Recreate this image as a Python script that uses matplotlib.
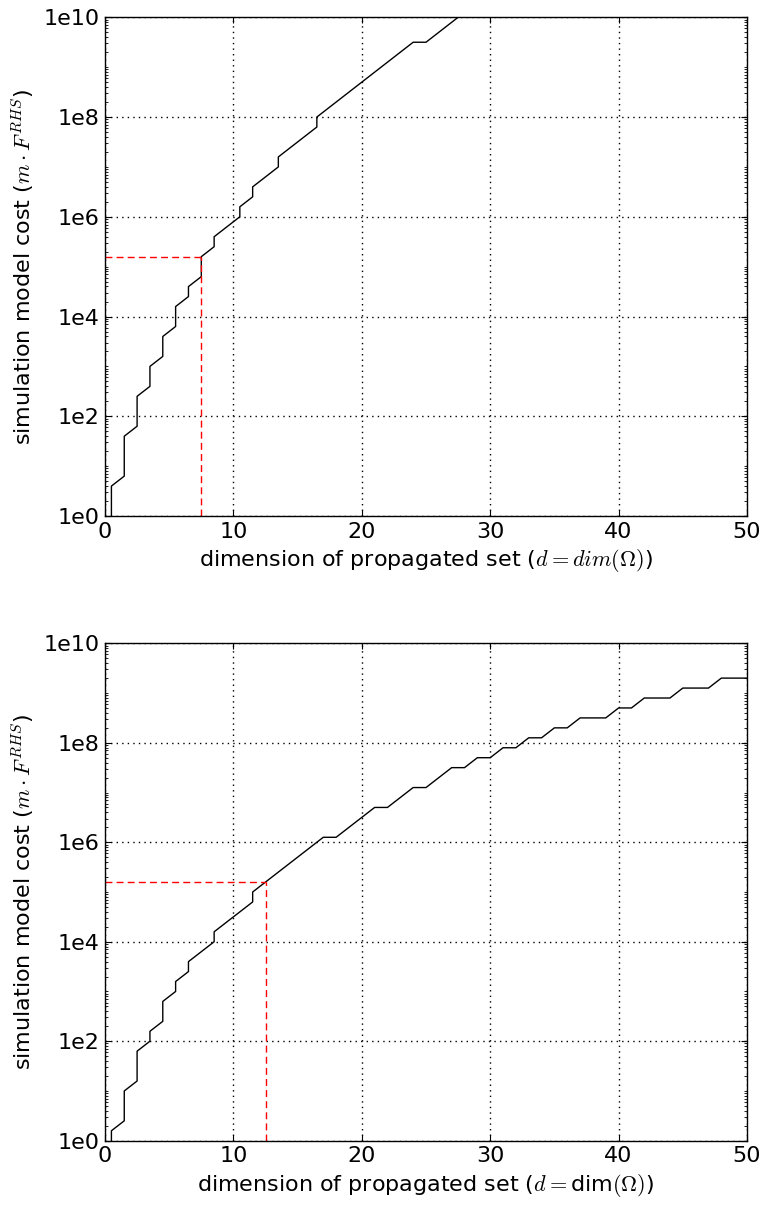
import numpy as np
import matplotlib
matplotlib.use("Agg")
import matplotlib.pyplot as plt
from matplotlib.ticker import FixedLocator, FixedFormatter, LogLocator, NullFormatter

# ---- data (vertices; y given as log10 values) ----
top_x = [0.5, 0.5, 1.5, 1.5, 2.5, 2.5, 3.5, 3.5, 4.5, 4.5, 5.5, 5.5, 6.5, 6.5,
         7.5, 7.5, 8.5, 8.5, 10.5, 10.5, 11.5, 11.5, 13.5, 13.5, 16.5, 16.5,
         24.0, 25.0, 27.5]
top_logy = [0.0, 0.6, 0.8, 1.6, 1.8, 2.4, 2.6, 3.0, 3.2, 3.6, 3.8, 4.2, 4.4, 4.6,
            4.8, 5.2, 5.4, 5.6, 6.0, 6.2, 6.4, 6.6, 7.0, 7.2, 7.8, 8.0,
            9.5, 9.5, 10.0]

bot_x = [0.5, 0.5, 1.5, 1.5, 2.5, 2.5, 3.5, 3.5, 4.5, 4.5, 5.5, 5.5, 6.5, 6.5,
         8.5, 8.5, 11.5, 11.5, 17.0, 18.0, 21.0, 22.0, 24.0, 25.0, 27.0, 28.0,
         29.0, 30.0, 31.0, 32.0, 33.0, 34.0, 35.0, 36.0, 37.0, 39.0, 40.0, 41.0,
         42.0, 44.0, 45.0, 47.0, 48.0, 50.0]
bot_logy = [0.0, 0.2, 0.4, 1.0, 1.2, 1.8, 2.0, 2.2, 2.4, 2.8, 3.0, 3.2, 3.4, 3.6,
            4.0, 4.2, 4.8, 5.0, 6.1, 6.1, 6.7, 6.7, 7.1, 7.1, 7.5, 7.5,
            7.7, 7.7, 7.9, 7.9, 8.1, 8.1, 8.3, 8.3, 8.5, 8.5, 8.7, 8.7,
            8.9, 8.9, 9.1, 9.1, 9.3, 9.3]

top_marker = (7.5, 5.2)   # (d, log10 cost) of red dashed guide
bot_marker = (12.5, 5.2)

xticks = [0, 10, 20, 30, 40, 50]
ytick_exps = [0, 2, 4, 6, 8, 10]
ytick_labels = ["1e0", "1e2", "1e4", "1e6", "1e8", "1e10"]

ylabel = r"simulation model cost ($m\cdot F^{RHS}$)"
top_xlabel = r"dimension of propagated set ($d=dim(\Omega)$)"
bot_xlabel = r"dimension of propagated set ($d=$dim$(\Omega)$)"

plt.rcParams["mathtext.fontset"] = "cm"
plt.rcParams["font.family"] = ["DejaVu Sans"]

W, H = 767, 1205
fig = plt.figure(figsize=(W / 100, H / 100), dpi=100)
FS = 16

def make_ax(left, top, right, bottom, xs, logys, marker, xlabel):
    ax = fig.add_axes([left / W, 1 - bottom / H, (right - left) / W, (bottom - top) / H])
    ys = [10.0 ** v for v in logys]
    ax.plot(xs, ys, color="black", lw=1.0)
    mx, my = marker
    ax.plot([0, mx], [10 ** my, 10 ** my], color="red", ls=(0, (5, 3)), lw=1.0)
    ax.plot([mx, mx], [1, 10 ** my], color="red", ls=(0, (5, 3)), lw=1.0)
    ax.set_yscale("log")
    ax.set_xlim(0, 50)
    ax.set_ylim(1, 1e10)
    ax.xaxis.set_major_locator(FixedLocator(xticks))
    ax.yaxis.set_major_locator(FixedLocator([10.0 ** e for e in ytick_exps]))
    ax.yaxis.set_major_formatter(FixedFormatter(ytick_labels))
    ax.yaxis.set_minor_locator(LogLocator(base=10, subs=np.arange(1, 10), numticks=100))
    ax.yaxis.set_minor_formatter(NullFormatter())
    ax.grid(True, which="major", color="black", ls=(0, (1, 3)), lw=1.0)
    ax.tick_params(which="both", direction="in", top=True, right=True, labelsize=FS)
    ax.tick_params(which="major", length=4, pad=4)
    ax.tick_params(which="minor", length=2)
    for s in ax.spines.values():
        s.set_linewidth(1.0)
    ax.set_xlabel(xlabel, fontsize=FS, labelpad=4)
    ax.set_ylabel(ylabel, fontsize=FS, labelpad=5)
    return ax

make_ax(105, 17.3, 747, 516, top_x, top_logy, top_marker, top_xlabel)
make_ax(105, 643.3, 747, 1140.7, bot_x, bot_logy, bot_marker, bot_xlabel)

fig.savefig("out.png", dpi=100, facecolor="white")
